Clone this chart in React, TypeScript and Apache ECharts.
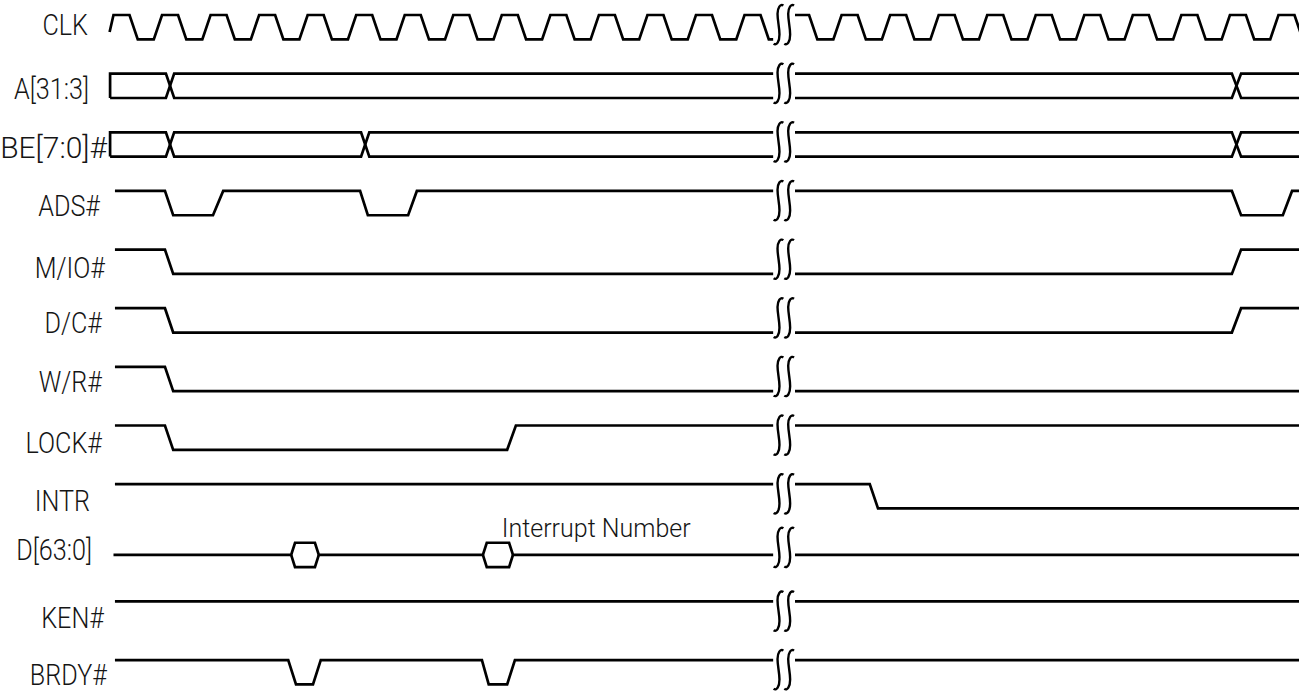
import React, { useEffect, useRef } from "react";
import * as echarts from "echarts";

// ---------- data (time unit = one clock period; t = k where CLK reaches its high level) ----------
const signalNames = ["CLK", "A[31:3]", "BE[7:0]#", "ADS#", "M/IO#", "D/C#", "W/R#", "LOCK#", "INTR", "D[63:0]", "KEN#", "BRDY#"];

const clkCycles = [0, 1, 2, 3, 4, 5, 6, 7, 8, 9, 10, 11, 12, 13, 14, 15, 16, 17, 18, 19, 20, 21, 22, 23, 24];
// one clock period: [phase, level]
const clkShape = [[0, 1], [0.33, 1], [0.5, 0], [0.83, 0]];
const clkStart = [-0.08, 0.3];

// traces: [time, level]  (1 = high / top, 0 = low / bottom, 0.5 = float)
const addr1 = [[-0.07, 0], [-0.07, 1], [1.08, 1], [1.25, 0], [23.04, 0], [23.23, 1], [24.6, 1]];
const addr2 = [[-0.07, 0], [1.08, 0], [1.25, 1], [23.04, 1], [23.23, 0], [24.6, 0]];
const be1 = [[-0.07, 0], [-0.07, 1], [1.08, 1], [1.25, 0], [5.1, 0], [5.27, 1], [23.04, 1], [23.23, 0], [24.6, 0]];
const be2 = [[-0.07, 0], [1.08, 0], [1.25, 1], [5.1, 1], [5.27, 0], [23.04, 0], [23.23, 1], [24.6, 1]];
const ads = [[0.03, 1], [1.06, 1], [1.23, 0], [2.05, 0], [2.26, 1], [5.08, 1], [5.24, 0], [6.07, 0], [6.25, 1], [23.04, 1], [23.23, 0], [24.09, 0], [24.28, 1], [24.6, 1]];
const mio = [[0.03, 1], [1.06, 1], [1.23, 0], [23.04, 0], [23.23, 1], [24.6, 1]];
const dc = [[0.03, 1], [1.06, 1], [1.23, 0], [23.04, 0], [23.23, 1], [24.6, 1]];
const wr = [[0.03, 1], [1.06, 1], [1.23, 0], [24.6, 0]];
const lock = [[0.03, 1], [1.06, 1], [1.23, 0], [8.11, 0], [8.29, 1], [24.6, 1]];
const intr = [[0.03, 1], [15.58, 1], [15.75, 0], [24.6, 0]];
const data1 = [[0.0, 0.5], [3.66, 0.5], [3.74, 1], [4.15, 1], [4.23, 0.5], [7.61, 0.5], [7.69, 1], [8.15, 1], [8.23, 0.5], [24.6, 0.5]];
const data2a = [[3.66, 0.5], [3.74, 0], [4.15, 0], [4.23, 0.5]];
const data2b = [[7.61, 0.5], [7.69, 0], [8.15, 0], [8.23, 0.5]];
const ken = [[0.03, 1], [24.6, 1]];
const brdy = [[0.03, 1], [3.6, 1], [3.76, 0], [4.11, 0], [4.27, 1], [7.59, 1], [7.73, 0], [8.11, 0], [8.27, 1], [24.6, 1]];

const annotations = [{ text: "Interrupt Number", t: 8.0, row: 9 }];

// ---------- layout ----------
const AMP = 0.415; // swing of a signal in row units
const BRK_L = 13.59;
const BRK_R = 14.04;
const BREAK_MARKS = [[13.6, 13.8], [13.82, 14.02]];
const BRK_TOP = -0.17;
const BRK_BOT = 0.5;
const breakShift = [0, 0, 0, 0, 0, 0, 0, 0, 0, -0.085, 0, 0];
const labelRight = [88, 89, 107, 100, 105, 102, 102, 102, 90, 92, 104, 107];
const labelDy = [0.17, 0.26, 0.265, 0.255, 0.31, 0.24, 0.255, 0.3, 0.29, 0.12, 0.28, 0.255];
const labelScaleX = [0.84, 0.84, 1.0, 0.84, 0.84, 0.84, 0.84, 0.84, 0.84, 0.84, 0.84, 0.84];
const annotDy = -0.235;
const X_MIN = -2.338;
const X_MAX = 24.423;
const Y_MIN = -0.2558;
const Y_MAX = 11.596;
const S_PATH = "M10 1 C7 -1 4 3 4 9 C4 16 6 22 6 29 C6 36 3 40 0 38";
const LABEL_FONT = "Roboto, 'Liberation Sans', Arial, sans-serif";

function cutBreak(pts: number[][]): any[] {
  const out: any[] = [];
  for (let i = 0; i < pts.length; i++) {
    const p = pts[i];
    const prev = i > 0 ? pts[i - 1] : null;
    if (prev) {
      const lv = (t: number) => prev[1] + ((p[1] - prev[1]) * (t - prev[0])) / (p[0] - prev[0] || 1);
      if (prev[0] < BRK_L && p[0] > BRK_L) out.push([BRK_L, lv(BRK_L)]);
      if (prev[0] < BRK_R && p[0] > BRK_R) {
        out.push([(BRK_L + BRK_R) / 2, "-"]);
        out.push([BRK_R, lv(BRK_R)]);
      }
    }
    if (!(p[0] > BRK_L && p[0] < BRK_R)) out.push(p);
  }
  return out;
}

function buildClock(): number[][] {
  const pts: number[][] = [clkStart];
  clkCycles.forEach((k) => clkShape.forEach(([ph, lv]) => pts.push([k + ph, lv])));
  return pts;
}

function toRow(pts: any[], row: number) {
  return pts.map((p) => (p[1] === "-" ? [p[0], "-"] : [p[0], row + (1 - p[1]) * AMP]));
}

export default function App() {
  const ref = useRef<HTMLDivElement>(null);
  useEffect(() => {
    if (!ref.current) return;
    const chart = echarts.init(ref.current, undefined, { renderer: "svg" });
    const traces: [number[][], number][] = [
      [buildClock(), 0],
      [addr1, 1], [addr2, 1],
      [be1, 2], [be2, 2],
      [ads, 3], [mio, 4], [dc, 5], [wr, 6], [lock, 7], [intr, 8],
      [data1, 9], [data2a, 9], [data2b, 9],
      [ken, 10], [brdy, 11],
    ];
    const lineSeries = traces.map(([pts, row]) => ({
      type: "line",
      data: toRow(cutBreak(pts), row),
      symbol: "none",
      showSymbol: false,
      connectNulls: false,
      silent: true,
      lineStyle: { color: "#000", width: 2.7, join: "miter" },
    }));

    const breakSeries = {
      type: "custom",
      silent: true,
      data: signalNames.map((_, r) => [BRK_L, r]),
      encode: { x: 0, y: 1 },
      renderItem: (params: any, api: any) => {
        const r = api.value(1);
        const yTop = r + BRK_TOP + breakShift[r];
        const yBot = r + BRK_BOT + breakShift[r];
        return {
          type: "group",
          children: BREAK_MARKS.map(([t0, t1]) => {
            const a = api.coord([t0, yTop]);
            const b = api.coord([t1, yBot]);
            return {
              type: "path",
              shape: { pathData: S_PATH, x: a[0], y: a[1], width: b[0] - a[0], height: b[1] - a[1], layout: "cover" },
              style: { fill: "none", stroke: "#000", lineWidth: 2.4 },
            };
          }),
        };
      },
    };

    const labelSeries = {
      type: "custom",
      silent: true,
      data: signalNames.map((_, r) => [0, r]),
      encode: { x: 0, y: 1 },
      renderItem: (params: any, api: any) => {
        const r = api.value(1);
        const p = api.coord([0, r + labelDy[r]]);
        return {
          type: "text",
          x: labelRight[r],
          y: p[1],
          scaleX: labelScaleX[r],
          style: {
            text: signalNames[params.dataIndex],
            align: "right",
            verticalAlign: "middle",
            fontSize: 30,
            fontWeight: 300,
            fontFamily: LABEL_FONT,
            fill: "#151515",
          },
        };
      },
    };

    const annotSeries = {
      type: "custom",
      silent: true,
      data: annotations.map((a) => [a.t, a.row]),
      encode: { x: 0, y: 1 },
      renderItem: (params: any, api: any) => {
        const p = api.coord([api.value(0), api.value(1) + annotDy]);
        return {
          type: "text",
          x: p[0],
          y: p[1],
          scaleX: 1.0,
          style: {
            text: annotations[params.dataIndex].text,
            align: "left",
            verticalAlign: "middle",
            fontSize: 25,
            fontWeight: 300,
            fontFamily: LABEL_FONT,
            fill: "#151515",
          },
        };
      },
    };

    chart.setOption({
      animation: false,
      backgroundColor: "#fff",
      grid: { left: 0, right: 0, top: 0, bottom: 0, containLabel: false },
      xAxis: { type: "value", min: X_MIN, max: X_MAX, show: false },
      yAxis: { type: "value", min: Y_MIN, max: Y_MAX, inverse: true, show: false },
      series: [...lineSeries, breakSeries, labelSeries, annotSeries],
    });
    return () => chart.dispose();
  }, []);
  return <div ref={ref} style={{ position: "absolute", left: 0, top: 0, width: 1299, height: 695 }} />;
}
